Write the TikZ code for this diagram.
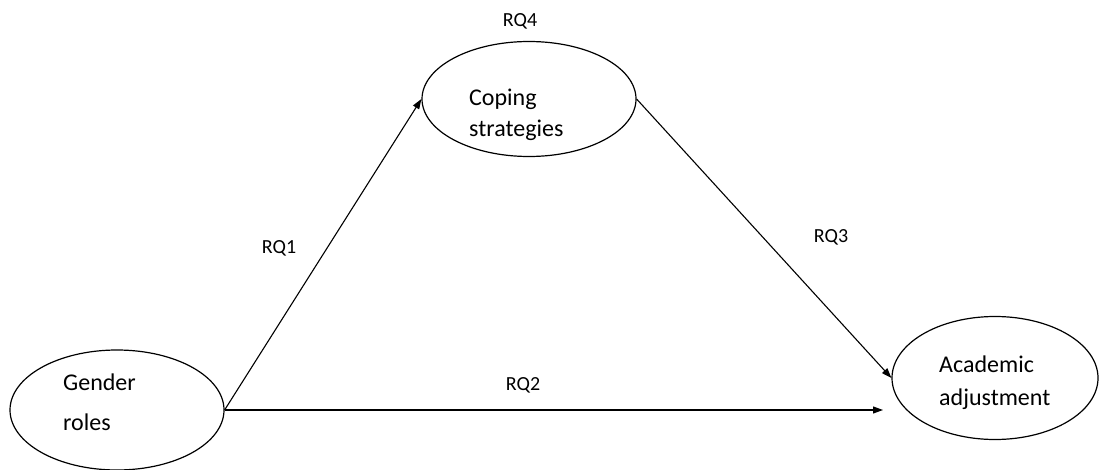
\documentclass[tikz,border=0pt]{standalone}
\usepackage{fontspec}
\setmainfont{Carlito}
\usetikzlibrary{arrows.meta,shapes.geometric}
\begin{document}
\begin{tikzpicture}[x=1pt,y=-1pt,
  oval/.style={draw,ellipse,inner sep=0pt,line width=1.2pt},
  ovaltext/.style={anchor=base west,inner sep=0pt,font=\fontsize{24}{24}\selectfont},
  rqlabel/.style={anchor=base,inner sep=0pt,font=\fontsize{20}{20}\selectfont},
  link/.style={line width=1.1pt,-{Triangle[length=10pt,width=7pt]}}]
\useasboundingbox (0,0) rectangle (1099,470);
\node[oval,minimum width=214pt,minimum height=120pt] (g) at (117,410) {};
\node[oval,minimum width=214pt,minimum height=115pt] (cs) at (529,99) {};
\node[oval,minimum width=206pt,minimum height=123pt] (aa) at (995,378) {};
\coordinate (hend) at (883,410);
% texts
\node[ovaltext] (g1) at (63,390) {Gender};
\node[ovaltext] (g2) at (63,430) {roles};
\node[ovaltext] (c1) at (469,106) {Coping};
\node[ovaltext] (c2) at (469,137) {strategies};
\node[ovaltext] (a1) at (939,372) {Academic};
\node[ovaltext] (a2) at (939,405) {adjustment};
% labels
\node[rqlabel] (rq4) at (520,27) {RQ4};
\node[rqlabel] (rq1) at (279,253) {RQ1};
\node[rqlabel] (rq3) at (831,242) {RQ3};
\node[rqlabel] (rq2) at (523,390) {RQ2};
% connectors
\draw[link] (g.east) -- (cs.west);
\draw[link] (g.east) -- (hend);
\draw[link] (cs.east) -- (aa.west);
\end{tikzpicture}
\end{document}
